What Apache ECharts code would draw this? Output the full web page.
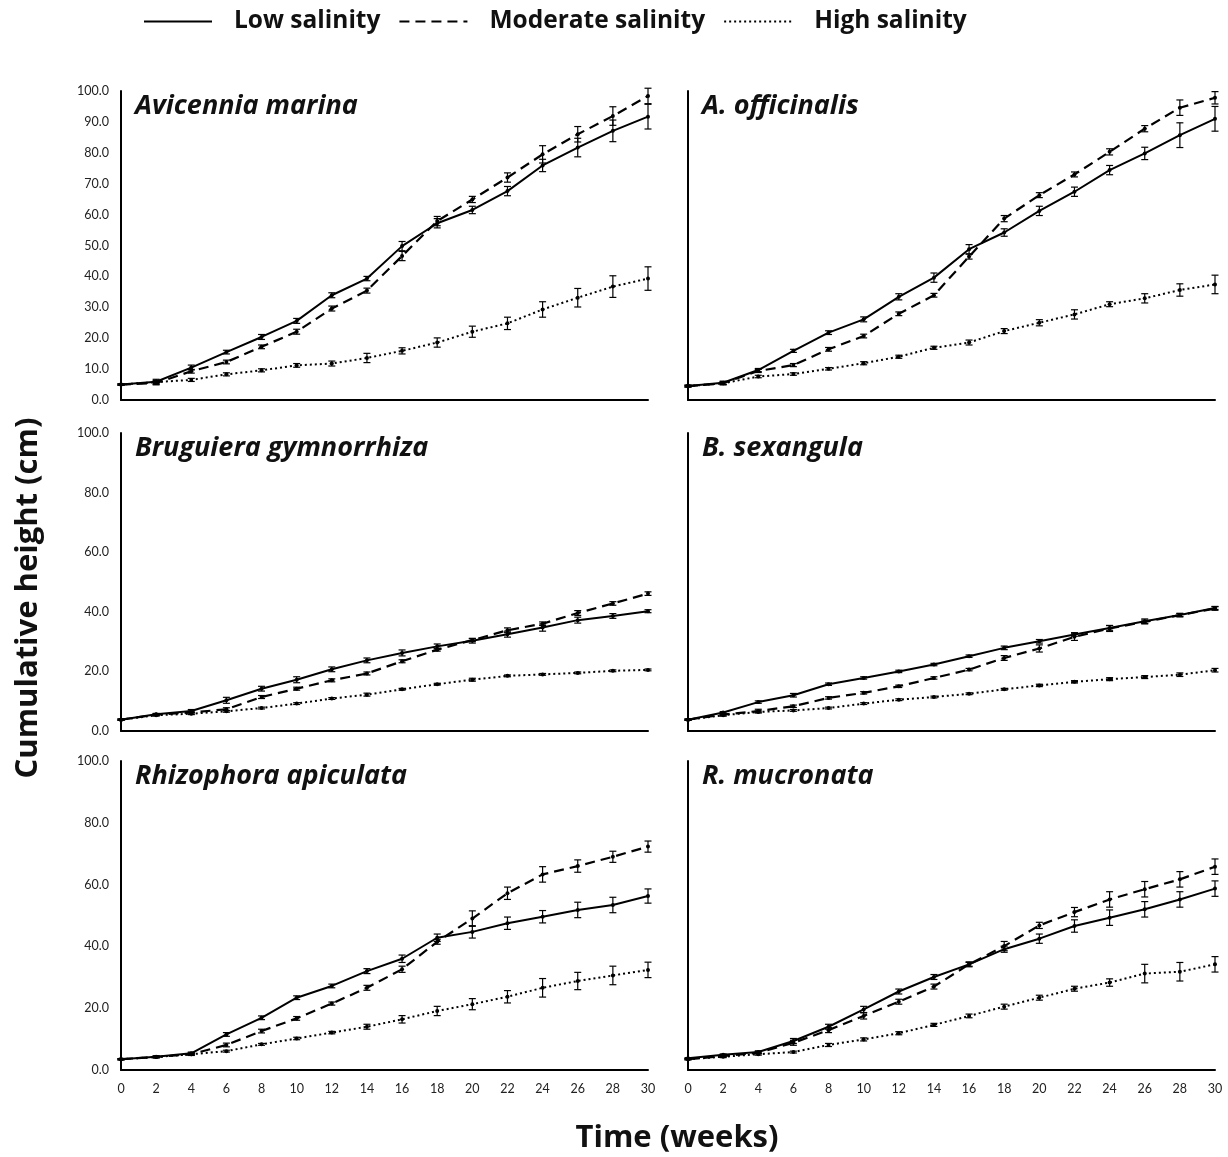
<!DOCTYPE html>
<html>
<head>
<meta charset="utf-8">
<script src="https://cdn.jsdelivr.net/npm/echarts@6/dist/echarts.min.js"></script>
<style>
html,body{margin:0;padding:0;background:#fff;}
#chart{width:1228px;height:1157px;}
</style>
</head>
<body>
<div id="chart"></div>
<script>
// ---------------- DATA ----------------
const weeks = [0,2,4,6,8,10,12,14,16,18,20,22,24,26,28,30];
const treatments = ['Low salinity','Moderate salinity','High salinity'];
const speciesNames = ['Avicennia marina','A. officinalis','Bruguiera gymnorrhiza','B. sexangula','Rhizophora apiculata','R. mucronata'];

// Avicennia marina
const amLow  = [5.0,5.9,10.5,15.5,20.4,25.6,33.9,39.3,49.8,57.2,61.5,67.6,75.9,81.7,87.1,91.7];
const amMod  = [5.0,5.5,9.3,12.3,17.2,22.1,29.6,35.4,46.6,57.9,64.9,72.0,79.5,86.0,91.9,98.4];
const amHigh = [5.0,5.8,6.5,8.3,9.6,11.2,11.8,13.6,15.9,18.6,22.1,24.8,29.3,33.1,36.7,39.3];
const amLowErr  = [0.2,0.8,0.8,0.6,0.8,0.8,0.8,0.7,1.5,1.5,1.2,1.5,2.0,3.0,3.5,4.0];
const amModErr  = [0.2,0.6,0.6,0.6,0.6,0.8,0.8,0.8,1.5,1.5,1.0,1.5,2.8,2.5,3.0,2.5];
const amHighErr = [0.2,0.5,0.5,0.5,0.5,0.6,0.8,1.5,1.0,1.5,1.8,2.0,2.5,3.0,3.5,3.8];

// A. officinalis
const aoLow  = [4.5,5.6,9.7,15.9,21.8,26.1,33.4,39.6,48.8,54.2,61.2,67.4,74.4,79.8,85.7,91.0];
const aoMod  = [4.5,5.4,9.4,11.3,16.4,20.7,27.9,33.9,46.4,58.7,66.3,73.0,80.3,87.8,94.6,97.8];
const aoHigh = [4.5,5.4,7.6,8.4,10.1,11.9,14.0,16.9,18.6,22.3,25.0,27.7,31.0,32.9,35.6,37.4];
const aoLowErr  = [0.3,0.5,0.5,0.5,0.6,0.8,1.0,1.5,1.5,1.2,1.5,1.5,1.5,2.0,4.0,4.0];
const aoModErr  = [0.3,0.5,0.5,0.5,0.6,0.6,0.6,0.6,0.8,1.0,0.8,0.8,1.0,1.0,2.5,2.0];
const aoHighErr = [0.2,0.4,0.4,0.4,0.4,0.5,0.5,0.5,0.8,0.8,1.0,1.5,0.8,1.5,2.0,3.0];

// Bruguiera gymnorrhiza
const bgLow  = [3.8,5.6,6.7,10.3,14.2,17.2,20.7,23.7,26.2,28.4,30.3,32.5,34.7,37.2,38.6,40.2];
const bgMod  = [3.8,5.5,6.2,7.3,11.4,14.2,17.0,19.3,23.4,27.3,30.5,33.8,36.0,39.6,42.8,46.1];
const bgHigh = [3.8,5.3,5.8,6.6,7.7,9.2,10.9,12.2,14.0,15.7,17.2,18.5,19.0,19.5,20.2,20.5];
const bgLowErr  = [0.2,0.3,0.5,1.0,0.8,1.0,0.8,0.8,1.0,0.8,0.8,1.0,1.2,1.0,0.8,0.5];
const bgModErr  = [0.2,0.3,0.5,0.5,0.5,0.5,0.5,0.5,0.5,0.5,0.5,0.8,0.6,0.8,0.6,0.6];
const bgHighErr = [0.2,0.3,0.3,0.3,0.3,0.3,0.3,0.5,0.3,0.3,0.5,0.3,0.3,0.3,0.3,0.3];

// B. sexangula
const bsLow  = [3.8,6.2,9.7,12.0,15.7,17.8,20.0,22.3,25.1,27.9,30.1,32.4,34.6,36.8,38.9,41.3];
const bsMod  = [3.8,5.5,6.7,8.3,11.1,12.8,15.0,17.8,20.6,24.5,27.7,31.6,34.4,36.6,38.9,41.1];
const bsHigh = [3.8,5.3,6.4,6.9,7.7,9.2,10.5,11.4,12.5,14.0,15.3,16.5,17.4,18.1,18.9,20.4];
const bsLowErr  = [0.2,0.3,0.4,0.6,0.4,0.4,0.4,0.4,0.4,0.6,0.6,0.6,0.8,0.8,0.5,0.5];
const bsModErr  = [0.2,0.4,0.6,0.4,0.4,0.4,0.4,0.4,0.4,0.8,1.2,1.2,1.0,0.6,0.6,0.6];
const bsHighErr = [0.2,0.3,0.3,0.3,0.3,0.3,0.3,0.3,0.3,0.3,0.4,0.4,0.5,0.5,0.6,0.6];

// Rhizophora apiculata
const raLow  = [3.5,4.3,5.4,11.5,16.9,23.4,27.2,32.0,36.0,42.8,44.7,47.5,49.6,51.8,53.4,56.3];
const raMod  = [3.5,4.2,5.1,8.1,12.6,16.7,21.5,26.6,32.6,41.5,49.0,57.2,63.3,66.0,69.0,72.3];
const raHigh = [3.5,4.2,5.1,6.1,8.3,10.2,12.1,14.0,16.4,19.1,21.3,23.7,26.6,28.8,30.6,32.4];
const raLowErr  = [0.2,0.3,0.4,0.6,0.6,0.6,0.6,0.8,1.2,1.2,2.0,2.0,2.0,2.5,2.5,2.3];
const raModErr  = [0.2,0.3,0.4,0.6,0.6,0.6,0.5,0.8,1.0,0.8,2.5,2.0,2.5,2.0,1.8,1.8];
const raHighErr = [0.2,0.2,0.3,0.3,0.3,0.4,0.4,0.8,1.2,1.5,1.8,2.0,3.0,2.8,3.0,2.5];

// R. mucronata
const rmLow  = [3.8,4.9,5.8,9.4,14.0,19.6,25.4,30.1,34.2,39.1,42.5,46.6,49.3,52.0,55.2,58.7];
const rmMod  = [3.5,4.5,5.6,8.8,12.9,17.5,22.1,27.0,34.2,40.1,46.8,51.1,55.2,58.5,61.7,65.8];
const rmHigh = [3.5,4.3,5.1,5.8,8.1,9.9,11.9,14.6,17.5,20.5,23.4,26.3,28.3,31.2,31.8,34.2];
const rmLowErr  = [0.2,0.3,0.4,0.8,0.8,1.0,0.8,0.8,0.6,1.0,1.5,2.0,2.5,2.5,2.5,2.5];
const rmModErr  = [0.2,0.3,0.4,0.8,0.8,1.0,0.8,0.8,0.8,1.5,1.0,1.5,2.5,2.5,2.5,2.5];
const rmHighErr = [0.2,0.3,0.3,0.3,0.5,0.5,0.5,0.5,0.6,0.8,0.8,0.8,1.2,3.0,3.0,2.5];

const yTickStepTop = 10;
const yTickStepOther = 20;

// ---------------- BUILD ----------------
const panels = [
  {name: speciesNames[0], vals:[amLow,amMod,amHigh], errs:[amLowErr,amModErr,amHighErr]},
  {name: speciesNames[1], vals:[aoLow,aoMod,aoHigh], errs:[aoLowErr,aoModErr,aoHighErr]},
  {name: speciesNames[2], vals:[bgLow,bgMod,bgHigh], errs:[bgLowErr,bgModErr,bgHighErr]},
  {name: speciesNames[3], vals:[bsLow,bsMod,bsHigh], errs:[bsLowErr,bsModErr,bsHighErr]},
  {name: speciesNames[4], vals:[raLow,raMod,raHigh], errs:[raLowErr,raModErr,raHighErr]},
  {name: speciesNames[5], vals:[rmLow,rmMod,rmHigh], errs:[rmLowErr,rmModErr,rmHighErr]}
];

const FONT = 'Lato';
const BIG = 'Open Sans';
const colLeft = [121, 688];
const panelW = 527;
const rowTop = [91, 433, 761];
const rowH = [309, 298, 309];

const lineTypes = ['solid', [10,6], [2,3]];
const lineWidths = [2, 2.2, 2];

const grids = [], xAxes = [], yAxes = [], series = [], titles = [];

panels.forEach((p, i) => {
  const r = Math.floor(i / 2), c = i % 2;
  grids.push({left: colLeft[c], top: rowTop[r], width: panelW, height: rowH[r], containLabel: false});
  xAxes.push({
    type: 'value', gridIndex: i, min: 0, max: 30, interval: 2,
    axisLine: {show: true, lineStyle: {color: '#000', width: 2}},
    axisTick: {show: false},
    splitLine: {show: false},
    axisLabel: {show: r === 2, color: '#222', fontFamily: FONT, fontSize: 12.5, margin: 12}
  });
  yAxes.push({
    type: 'value', gridIndex: i, min: 0, max: 100, interval: r === 0 ? yTickStepTop : yTickStepOther,
    axisLine: {show: true, onZero: false, lineStyle: {color: '#000', width: 2}},
    axisTick: {show: false},
    splitLine: {show: false},
    axisLabel: {show: c === 0, color: '#222', fontFamily: FONT, fontSize: 12.5, margin: 12,
      formatter: v => v.toFixed(1)}
  });
  titles.push({
    text: p.name, left: colLeft[c] + 9, top: rowTop[r] - 3,
    textStyle: {fontFamily: BIG, fontSize: 27, fontWeight: 'bold', fontStyle: 'italic', color: '#111'}
  });
  p.vals.forEach((v, k) => {
    series.push({
      name: treatments[k], type: 'line', xAxisIndex: i, yAxisIndex: i,
      data: weeks.map((w, j) => [w, v[j]]),
      symbol: 'circle', symbolSize: 4, showSymbol: true,
      itemStyle: {color: '#000'},
      lineStyle: {color: '#000', width: lineWidths[k], type: lineTypes[k]},
      z: 3, silent: true
    });
    const e = p.errs[k];
    series.push({
      type: 'custom', xAxisIndex: i, yAxisIndex: i, silent: true, z: 4,
      data: weeks.map((w, j) => [w, v[j] - e[j], v[j] + e[j]]),
      encode: {x: 0, y: [1, 2]},
      renderItem: (params, api) => {
        const x = api.value(0), lo = api.value(1), hi = api.value(2);
        const a = api.coord([x, lo]), b = api.coord([x, hi]);
        const hw = 3.5;
        const st = {stroke: '#000', lineWidth: 1.2};
        return {type: 'group', children: [
          {type: 'line', shape: {x1: a[0], y1: a[1], x2: b[0], y2: b[1]}, style: st},
          {type: 'line', shape: {x1: a[0]-hw, y1: a[1], x2: a[0]+hw, y2: a[1]}, style: st},
          {type: 'line', shape: {x1: b[0]-hw, y1: b[1], x2: b[0]+hw, y2: b[1]}, style: st}
        ]};
      }
    });
  });
});

const chart = echarts.init(document.getElementById('chart'), null, {renderer: 'canvas'});
chart.setOption({
  backgroundColor: '#fff',
  animation: false,
  title: titles,
  legend: {
    data: treatments,
    left: 138, top: 4,
    itemWidth: 68, itemHeight: 14, itemGap: 18,
    itemStyle: {opacity: 0},
    textStyle: {fontFamily: BIG, fontSize: 24.5, fontWeight: 'bold', color: '#111', padding: [0, 0, 0, 17]},
    selectedMode: false
  },
  grid: grids,
  xAxis: xAxes,
  yAxis: yAxes,
  series: series,
  graphic: [
    {type: 'text', x: 28, y: 598, rotation: Math.PI / 2,
      style: {text: 'Cumulative height (cm)', fontFamily: BIG, fontSize: 31, fontWeight: 'bold', fill: '#111',
        align: 'center', verticalAlign: 'middle'}},
    {type: 'text', x: 677, y: 1138,
      style: {text: 'Time (weeks)', fontFamily: BIG, fontSize: 31, fontWeight: 'bold', fill: '#111',
        align: 'center', verticalAlign: 'middle'}}
  ]
});
</script>
</body>
</html>
